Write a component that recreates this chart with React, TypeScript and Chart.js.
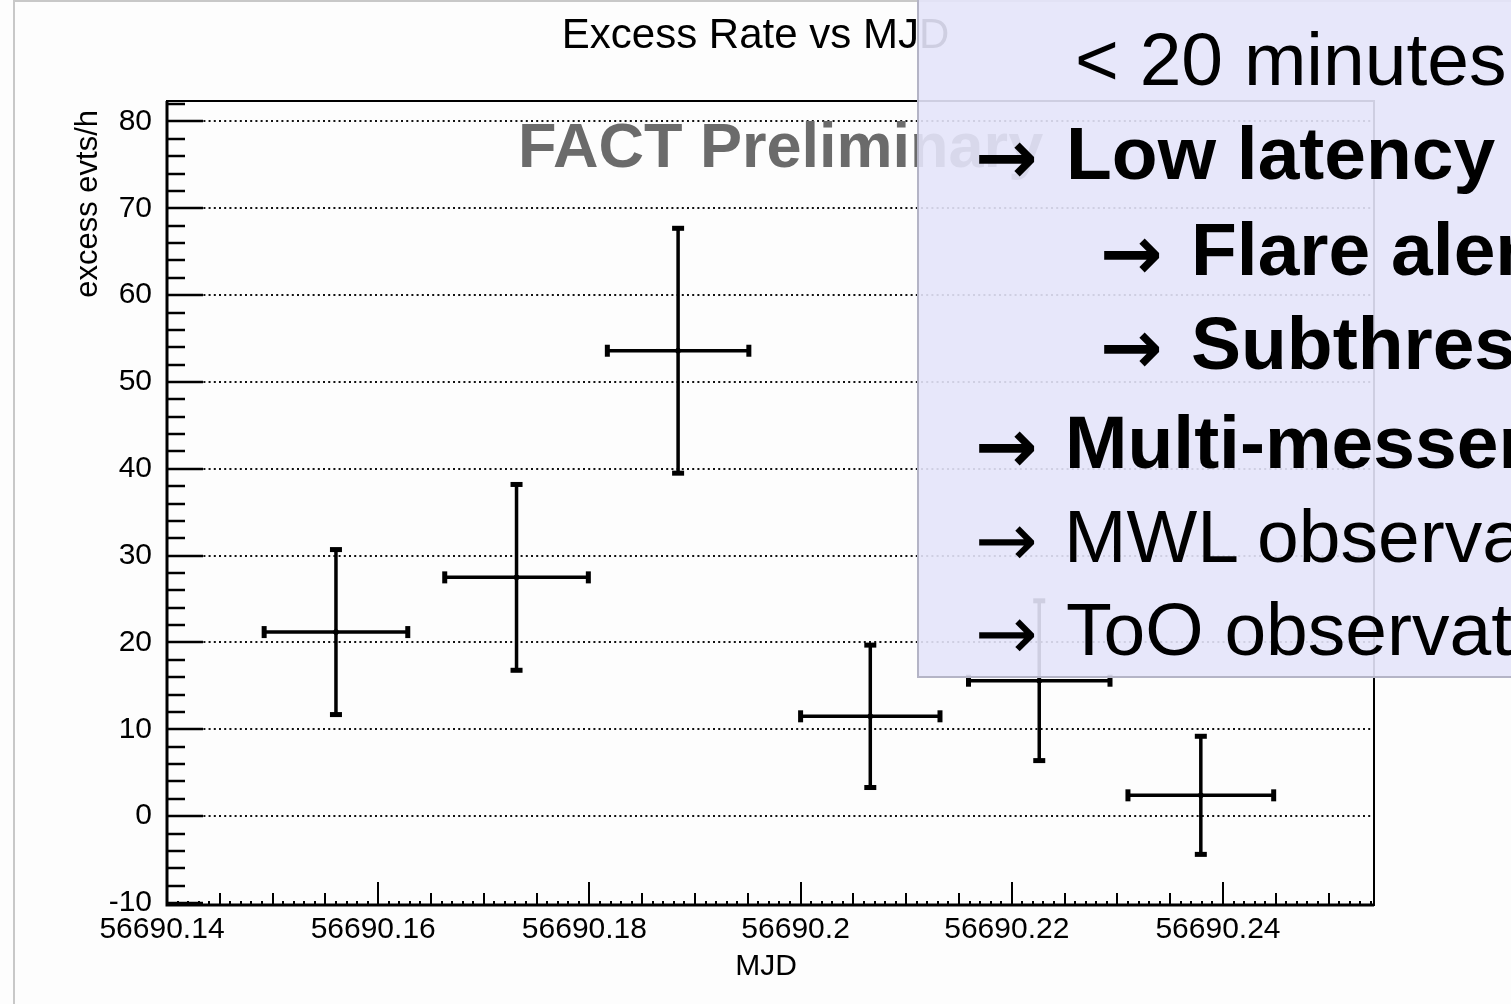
import React, { useEffect, useRef } from "react";
import { Chart, registerables } from "chart.js";

Chart.register(...registerables);

const FONT = "'Liberation Sans', Arial, Helvetica, sans-serif";
const ARROW_FONT = "'DejaVu Sans', 'Liberation Sans', sans-serif";

// ---- data ----
const mjd = [56690.156, 56690.1731, 56690.1884, 56690.2066, 56690.2226, 56690.2379];
const mjdHalfWidth = [0.0068, 0.0068, 0.0067, 0.0066, 0.0067, 0.0069];
const excessRate = [21.2, 27.5, 53.6, 11.5, 15.6, 2.4];
const excessRateErr = [9.5, 10.7, 14.1, 8.2, 9.2, 6.8];

const xTickValues = [56690.14, 56690.16, 56690.18, 56690.2, 56690.22, 56690.24];
const xTickLabels = ["56690.14", "56690.16", "56690.18", "56690.2", "56690.22", "56690.24"];
const yTickValues = [-10, 0, 10, 20, 30, 40, 50, 60, 70, 80];
const yTickLabels = ["-10", "0", "10", "20", "30", "40", "50", "60", "70", "80"];

const chartTitle = "Excess Rate vs MJD";
const xAxisTitle = "MJD";
const yAxisTitle = "excess evts/h";
const watermark = "FACT Preliminary";

const noteTexts = [
  "< 20 minutes",
  "Low latency",
  "Flare alerts",
  "Subthreshold alerts",
  "Multi-messenger",
  "MWL observations",
  "ToO observations",
];
const noteHasArrow = [false, true, true, true, true, true, true];
const noteBold = [false, true, true, true, true, false, false];

const W = 1511;
const H = 1004;

const rootStyle = {
  id: "rootStyle",
  beforeDraw(chart: any) {
    const { ctx, width, height } = chart;
    ctx.save();
    ctx.fillStyle = "#fdfdfd";
    ctx.fillRect(0, 0, width, height);
    ctx.strokeStyle = "#c8c8c8";
    ctx.lineWidth = 2;
    ctx.beginPath();
    ctx.moveTo(14, height);
    ctx.lineTo(14, 1);
    ctx.lineTo(width, 1);
    ctx.stroke();
    ctx.restore();
  },
  beforeDatasetsDraw(chart: any) {
    const { ctx, chartArea: a, scales } = chart;
    const x = scales.x;
    const y = scales.y;
    ctx.save();
    // dotted horizontal grid
    ctx.strokeStyle = "#111";
    ctx.lineWidth = 2;
    ctx.setLineDash([2, 3.2]);
    for (const v of yTickValues) {
      if (v <= y.min + 0.5) continue;
      const py = Math.round(y.getPixelForValue(v));
      ctx.beginPath();
      ctx.moveTo(a.left, py);
      ctx.lineTo(a.right, py);
      ctx.stroke();
    }
    ctx.setLineDash([]);

    // watermark
    ctx.fillStyle = "#6b6b6b";
    ctx.font = `bold 63px ${FONT}`;
    ctx.textAlign = "left";
    ctx.textBaseline = "alphabetic";
    ctx.fillText(watermark, 518, 167);

    // frame
    ctx.strokeStyle = "#000";
    ctx.lineWidth = 2;
    ctx.strokeRect(a.left, a.top, a.right - a.left, a.bottom - a.top);
    ctx.lineWidth = 3;
    ctx.beginPath();
    ctx.moveTo(a.left, a.top);
    ctx.lineTo(a.left, a.bottom);
    ctx.lineTo(a.right, a.bottom);
    ctx.stroke();

    // y ticks (inside)
    ctx.lineWidth = 2.5;
    for (let k = -5; 2 * k <= y.max; k++) {
      const v = 2 * k;
      if (v < y.min) continue;
      const py = Math.round(y.getPixelForValue(v));
      const len = v % 10 === 0 ? 36 : 18;
      ctx.beginPath();
      ctx.moveTo(a.left, py);
      ctx.lineTo(a.left + len, py);
      ctx.stroke();
    }
    // x ticks (inside)
    ctx.lineWidth = 2;
    const x0 = xTickValues[0];
    for (let k = 0; x0 + k * 0.001 <= x.max; k++) {
      const px = Math.round(x.getPixelForValue(x0 + k * 0.001));
      const len = k % 20 === 0 ? 23 : k % 5 === 0 ? 12 : 4;
      ctx.beginPath();
      ctx.moveTo(px, a.bottom);
      ctx.lineTo(px, a.bottom - len);
      ctx.stroke();
    }

    // error bars
    ctx.strokeStyle = "#000";
    ctx.fillStyle = "#000";
    ctx.lineWidth = 3.5;
    for (let i = 0; i < mjd.length; i++) {
      const px = x.getPixelForValue(mjd[i]);
      const py = y.getPixelForValue(excessRate[i]);
      const xl = x.getPixelForValue(mjd[i] - mjdHalfWidth[i]);
      const xr = x.getPixelForValue(mjd[i] + mjdHalfWidth[i]);
      const yt = y.getPixelForValue(excessRate[i] + excessRateErr[i]);
      const yb = y.getPixelForValue(excessRate[i] - excessRateErr[i]);
      ctx.beginPath();
      ctx.moveTo(xl, py);
      ctx.lineTo(xr, py);
      ctx.moveTo(px, yt);
      ctx.lineTo(px, yb);
      ctx.stroke();
      ctx.fillRect(px - 6, yt - 2.5, 12, 5);
      ctx.fillRect(px - 6, yb - 2.5, 12, 5);
      ctx.fillRect(xl - 2.5, py - 6, 5, 12);
      ctx.fillRect(xr - 2.5, py - 6, 5, 12);
    }
    ctx.restore();
  },
  afterDraw(chart: any) {
    const { ctx, width } = chart;
    ctx.save();
    ctx.fillStyle = "#000";
    ctx.textBaseline = "alphabetic";
    ctx.font = `42px ${FONT}`;
    ctx.textAlign = "center";
    ctx.fillText(chartTitle, width / 2, 48);
    ctx.font = `30px ${FONT}`;
    ctx.fillText(xAxisTitle, 766, 975);
    ctx.font = `31px ${FONT}`;
    ctx.translate(97, 110);
    ctx.rotate(-Math.PI / 2);
    ctx.textAlign = "right";
    ctx.fillText(yAxisTitle, 0, 0);
    ctx.restore();
  },
};

export default function App() {
  const canvasRef = useRef<HTMLCanvasElement | null>(null);

  useEffect(() => {
    const canvas = canvasRef.current;
    if (!canvas) return;
    const chart = new Chart(canvas, {
      type: "scatter",
      data: {
        datasets: [
          {
            label: "excess rate",
            data: mjd.map((m, i) => ({ x: m, y: excessRate[i] })),
            pointRadius: 2.5,
            pointBackgroundColor: "#000",
            pointBorderColor: "#000",
            showLine: false,
          },
        ],
      },
      options: {
        animation: false,
        responsive: false,
        devicePixelRatio: 1,
        layout: { padding: { left: 0, top: 101, right: 137, bottom: 0 } },
        plugins: {
          legend: { display: false },
          tooltip: { enabled: false },
          title: { display: false },
        },
        scales: {
          x: {
            type: "linear",
            min: 56690.14,
            max: 56690.2543,
            grid: { display: false, drawTicks: false },
            border: { display: false },
            afterBuildTicks: (s: any) => {
              s.ticks = xTickValues.map((v) => ({ value: v }));
            },
            afterFit: (s: any) => {
              s.height = 99;
            },
            ticks: {
              autoSkip: false,
              maxRotation: 0,
              minRotation: 0,
              padding: 7,
              labelOffset: -5,
              color: "#000",
              font: { family: FONT, size: 30 },
              callback: (_v: any, i: number) => xTickLabels[i] ?? "",
            },
          },
          y: {
            type: "linear",
            min: -10.23,
            max: 82.36,
            grid: { display: false, drawTicks: false },
            border: { display: false },
            afterBuildTicks: (s: any) => {
              s.ticks = yTickValues.map((v) => ({ value: v }));
            },
            afterFit: (s: any) => {
              s.width = 167;
            },
            ticks: {
              padding: 15,
              color: "#000",
              font: { family: FONT, size: 30 },
              callback: (_v: any, i: number) => yTickLabels[i] ?? "",
            },
          },
        },
      },
      plugins: [rootStyle],
    });
    return () => chart.destroy();
  }, []);

  const arrowX = [0, 975, 1100, 1100, 975, 975, 975];
  const textX = [1075, 1066, 1191, 1191, 1065, 1064, 1066];
  const baseY = [85, 179, 275, 369, 468, 562, 655];

  return (
    <div
      style={{
        position: "fixed",
        left: 0,
        top: 0,
        width: W,
        height: H,
        overflow: "hidden",
        background: "#fdfdfd",
      }}
    >
      <canvas ref={canvasRef} width={W} height={H} style={{ display: "block", width: W, height: H }} />
      <svg
        width={W}
        height={H}
        style={{ position: "absolute", left: 0, top: 0, pointerEvents: "none" }}
      >
        <rect x={917} y={-5} width={700} height={682} fill="rgba(228,228,250,0.9)" />
        <line x1={918} y1={0} x2={918} y2={677} stroke="#b4b4c6" strokeWidth={2} />
        <line x1={917} y1={677} x2={W} y2={677} stroke="#b4b4c6" strokeWidth={2} />
        {noteTexts.map((t, i) => (
          <g key={i}>
            {noteHasArrow[i] && (
              <text
                x={arrowX[i]}
                y={baseY[i] + 4}
                fontFamily={ARROW_FONT}
                fontSize={75}
                fontWeight={noteBold[i] ? "bold" : "normal"}
                fill="#000"
              >
                →
              </text>
            )}
            <text
              x={textX[i]}
              y={baseY[i]}
              fontFamily={FONT}
              fontSize={75}
              fontWeight={noteBold[i] ? "bold" : "normal"}
              fill="#000"
            >
              {t}
            </text>
          </g>
        ))}
      </svg>
    </div>
  );
}
